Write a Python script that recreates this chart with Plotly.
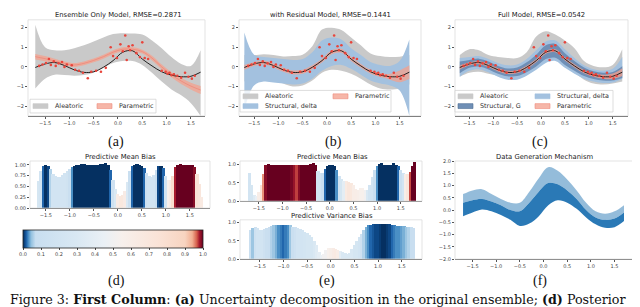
import plotly.graph_objects as go

# ---------------- data ----------------
XG = [-1.7, -1.5, -1.3, -1.1, -0.9, -0.7, -0.5, -0.3, -0.1, 0.1, 0.3, 0.5, 0.7, 0.9, 1.1, 1.3, 1.5, 1.7]
TRUE_MEAN = [-0.03, 0.15, 0.22, 0.07, -0.15, -0.28, -0.25, -0.02, 0.32, 0.75, 0.82, 0.40, 0.05, -0.25, -0.42, -0.50, -0.48, -0.27]

# (a) ensemble only
A_ALEA_HI = [2.15, 1.0, 0.85, 0.85, 0.95, 1.1, 1.3, 1.5, 1.68, 1.72, 1.7, 1.65, 1.35, 0.95, 0.5, 0.15, 0.05, 0.85]
A_ALEA_LO = [-1.1, -0.6, -0.4, -0.42, -0.45, -0.42, -0.3, -0.05, 0.2, 0.3, 0.3, 0.1, -0.3, -0.75, -1.15, -1.45, -1.85, -2.5]
A_ENS_MEAN = [0.52, 0.42, 0.30, 0.18, 0.10, 0.18, 0.33, 0.52, 0.75, 0.90, 0.90, 0.78, 0.45, 0.0, -0.40, -0.72, -0.98, -1.18]
A_PARAM_HI = [0.66, 0.55, 0.42, 0.28, 0.20, 0.28, 0.43, 0.62, 0.85, 1.0, 1.0, 0.88, 0.57, 0.12, -0.27, -0.57, -0.81, -0.98]
A_PARAM_LO = [0.38, 0.29, 0.18, 0.08, 0.0, 0.08, 0.23, 0.42, 0.65, 0.8, 0.8, 0.68, 0.33, -0.12, -0.53, -0.87, -1.15, -1.38]

# (b) with residual model
B_ALEA_HI = [0.6, 0.6, 0.65, 0.6, 0.53, 0.55, 0.62, 1.05, 1.9, 2.0, 1.88, 1.5, 1.1, 0.68, 0.55, 0.5, 0.52, 0.6]
B_ALEA_LO = [-0.75, -0.55, -0.5, -0.62, -0.85, -1.0, -0.95, -0.7, -0.3, -0.15, -0.2, -0.35, -0.6, -0.9, -1.1, -1.15, -1.1, -0.9]
B_DELTA_HI = [1.75, 0.62, 0.5, 0.45, 0.4, 0.35, 0.4, 0.75, 1.35, 1.5, 1.4, 0.95, 0.6, 0.25, 0.1, 0.05, 0.3, 1.4]
B_DELTA_LO = [-2.2, -0.95, -0.75, -0.8, -0.85, -0.9, -0.85, -0.6, -0.2, 0.05, 0.1, -0.1, -0.4, -0.7, -0.85, -0.95, -1.2, -2.5]
B_PARAM_HI = [0.09, 0.25, 0.32, 0.17, -0.05, -0.18, -0.15, 0.08, 0.42, 0.85, 0.92, 0.5, 0.15, -0.15, -0.32, -0.35, -0.18, 0.08]
B_PARAM_LO = [-0.15, 0.05, 0.12, -0.03, -0.25, -0.38, -0.35, -0.12, 0.22, 0.65, 0.72, 0.3, -0.05, -0.35, -0.52, -0.65, -0.78, -0.62]

# (c) full model
C_ALEA_HI = [0.6, 0.9, 0.85, 0.6, 0.5, 0.45, 0.45, 0.75, 1.55, 1.82, 1.65, 1.35, 0.95, 0.3, 0.05, -0.02, 0.1, 0.9]
C_ALEA_LO = [-0.5, -0.3, -0.25, -0.35, -0.45, -0.6, -0.6, -0.35, 0.1, 0.4, 0.35, 0.05, -0.3, -0.65, -0.85, -0.9, -0.85, -0.75]
C_DELTA_HI = [0.45, 0.5, 0.55, 0.4, 0.2, 0.08, 0.12, 0.4, 0.85, 1.3, 1.35, 0.9, 0.45, 0.08, -0.12, -0.2, -0.1, 0.5]
C_DELTA_LO = [-0.5, -0.2, -0.12, -0.28, -0.5, -0.65, -0.65, -0.45, -0.15, 0.2, 0.3, -0.05, -0.35, -0.6, -0.75, -0.82, -0.8, -0.6]
C_G_HI = [0.27, 0.35, 0.42, 0.27, 0.05, -0.08, -0.03, 0.23, 0.62, 1.1, 1.17, 0.7, 0.3, -0.03, -0.22, -0.3, -0.26, 0.03]
C_G_LO = [-0.33, -0.05, 0.02, -0.13, -0.35, -0.48, -0.47, -0.27, 0.02, 0.4, 0.47, 0.1, -0.2, -0.47, -0.62, -0.7, -0.7, -0.57]
C_PARAM_HI = [0.07, 0.23, 0.3, 0.15, -0.07, -0.2, -0.17, 0.06, 0.4, 0.83, 0.9, 0.48, 0.13, -0.17, -0.34, -0.4, -0.34, -0.07]
C_PARAM_LO = [-0.13, 0.07, 0.14, -0.01, -0.23, -0.36, -0.33, -0.1, 0.24, 0.67, 0.74, 0.32, -0.03, -0.33, -0.5, -0.6, -0.62, -0.47]

# observed training points
OBS_X = [-1.62, -1.55, -1.48, -1.42, -1.38, -1.32, -1.28, -1.22, -1.15, -1.1, -1.05, -0.95, -0.88, -0.8, -0.72, -0.62,
         -0.55, -0.45, -0.35, -0.25, -0.15, -0.1, -0.02, 0.05, 0.1, 0.15, 0.18, 0.22, 0.25, 0.3, 0.38, 0.45, 0.5,
         0.55, 0.62, 0.9, 0.98, 1.02, 1.06, 1.1, 1.15, 1.22, 1.3, 1.38, 1.45, 1.52, 1.58]
OBS_Y = [0.05, 0.12, 0.2, 0.4, 0.1, 0.28, 0.05, 0.18, 0.25, 0.0, 0.12, 0.08, -0.15, -0.2, -0.3, -0.58,
         -0.25, -0.2, -0.25, -0.05, 1.0, 0.55, 0.45, 1.15, 0.8, 1.6, 0.35, 1.05, 0.85, 1.1, 0.7, 0.5, 1.25,
         0.45, 0.4, -0.2, -0.25, -0.35, -0.3, -0.42, -0.38, -0.45, -0.55, -0.3, -0.5, -0.6, -0.45]

# bias panels: bar grid
XB = [-1.70, -1.65, -1.60, -1.55, -1.50, -1.45, -1.40, -1.35, -1.30, -1.25, -1.20, -1.15, -1.10, -1.05, -1.00,
      -0.95, -0.90, -0.85, -0.80, -0.75, -0.70, -0.65, -0.60, -0.55, -0.50, -0.45, -0.40, -0.35, -0.30, -0.25,
      -0.20, -0.15, -0.10, -0.05, 0.00, 0.05, 0.10, 0.15, 0.20, 0.25, 0.30, 0.35, 0.40, 0.45, 0.50, 0.55, 0.60,
      0.65, 0.70, 0.75, 0.80, 0.85, 0.90, 0.95, 1.00, 1.05, 1.10, 1.15, 1.20, 1.25, 1.30, 1.35, 1.40, 1.45, 1.50,
      1.55, 1.60, 1.65, 1.70, 1.75, 1.80]
D_MEAN_H = [0.00, 0.62, 0.85, 0.97, 1.00, 0.98, 0.90, 0.80, 0.74, 0.72,
            0.73, 0.77, 0.82, 0.87, 0.90, 0.95, 0.98, 1.00, 1.00, 1.01,
            1.01, 1.00, 1.00, 1.00, 1.00, 1.00, 1.00, 1.01, 1.02, 1.05,
            1.00, 0.88, 0.65, 0.45, 0.33, 0.28, 0.30, 0.40, 0.60, 0.85,
            0.97, 1.00, 1.02, 1.00, 0.98, 0.92, 0.82, 0.74, 0.72, 0.76,
            0.88, 0.97, 0.98, 0.92, 0.75, 0.66, 0.65, 0.75, 0.95, 1.00,
            1.01, 1.00, 1.00, 1.00, 1.00, 1.00, 0.95, 0.78, 0.55, 0.25,
            0.00]
D_MEAN_C = [0.50, 0.25, 0.20, 0.02, 0.00, 0.01, 0.06, 0.20, 0.20, 0.20,
            0.20, 0.20, 0.20, 0.18, 0.10, 0.03, 0.00, 0.00, 0.00, 0.00,
            0.00, 0.00, 0.00, 0.00, 0.00, 0.00, 0.00, 0.00, 0.00, 0.00,
            0.00, 0.02, 0.15, 0.30, 0.62, 0.68, 0.68, 0.62, 0.30, 0.10,
            0.02, 0.00, 0.00, 0.00, 0.00, 0.02, 0.15, 0.20, 0.20, 0.20,
            0.10, 0.01, 0.00, 0.02, 0.20, 0.55, 0.62, 0.80, 0.98, 1.00,
            1.00, 1.00, 1.00, 1.00, 1.00, 1.00, 0.99, 0.75, 0.70, 0.65,
            0.50]
E_MEAN_H = [0.78, 0.45, 0.18, 0.15, 0.25, 0.45, 0.75, 0.98, 1.03, 1.00,
            0.98, 0.98, 0.98, 0.98, 0.98, 0.98, 0.98, 0.98, 0.98, 0.98,
            0.98, 0.98, 0.98, 0.98, 0.99, 1.00, 1.02, 1.05, 1.00, 0.82,
            0.76, 0.78, 0.88, 0.97, 1.00, 1.00, 0.95, 0.85, 0.70, 0.60,
            0.56, 0.55, 0.52, 0.50, 0.45, 0.33, 0.31, 0.36, 0.36, 0.30,
            0.30, 0.45, 0.65, 0.85, 0.97, 1.02, 1.05, 1.00, 0.98, 0.98,
            1.00, 1.04, 1.00, 0.95, 0.85, 0.78, 0.74, 0.74, 0.80, 0.95,
            1.08]
E_MEAN_C = [0.20, 0.25, 0.35, 0.45, 0.60, 0.75, 0.95, 0.99, 1.00, 1.00,
            1.00, 1.00, 1.00, 1.00, 1.00, 1.00, 1.00, 1.00, 0.995, 0.985,
            0.972, 0.99, 1.00, 1.00, 1.00, 1.00, 1.00, 1.00, 1.00, 0.20,
            0.20, 0.10, 0.02, 0.00, 0.00, 0.00, 0.00, 0.03, 0.20, 0.25,
            0.40, 0.65, 0.70, 0.68, 0.60, 0.60, 0.58, 0.55, 0.55, 0.50,
            0.30, 0.20, 0.20, 0.10, 0.03, 0.00, 0.00, 0.00, 0.00, 0.00,
            0.00, 0.00, 0.00, 0.02, 0.10, 0.20, 0.60, 0.70, 0.97, 1.00,
            1.00]
E_VAR_H = [0.80, 0.86, 0.88, 0.85, 0.80, 0.80, 0.82, 0.86, 0.90, 0.92,
           0.93, 0.94, 0.95, 0.95, 0.95, 0.95, 0.95, 0.93, 0.90, 0.88,
           0.86, 0.84, 0.80, 0.76, 0.72, 0.67, 0.60, 0.50, 0.38, 0.20,
           0.12, 0.14, 0.25, 0.32, 0.30, 0.30, 0.28, 0.25, 0.22, 0.20,
           0.18, 0.15, 0.18, 0.28, 0.40, 0.50, 0.60, 0.70, 0.80, 0.90,
           0.94, 0.95, 0.96, 0.96, 0.97, 0.97, 0.98, 0.98, 0.98, 0.97,
           0.95, 0.93, 0.92, 0.92, 0.92, 0.91, 0.90, 0.90, 0.88, 0.87,
           0.00]
E_VAR_C = [0.10, 0.05, 0.15, 0.20, 0.20, 0.20, 0.15, 0.10, 0.08, 0.06,
           0.05, 0.04, 0.03, 0.025, 0.02, 0.025, 0.03, 0.05, 0.10, 0.15,
           0.20, 0.20, 0.20, 0.22, 0.25, 0.25, 0.25, 0.30, 0.35, 0.40,
           0.45, 0.50, 0.50, 0.55, 0.58, 0.62, 0.65, 0.60, 0.40, 0.30,
           0.30, 0.30, 0.30, 0.30, 0.25, 0.25, 0.20, 0.15, 0.06, 0.04,
           0.03, 0.02, 0.015, 0.01, 0.01, 0.005, 0.00, 0.00, 0.005, 0.01,
           0.02, 0.025, 0.03, 0.03, 0.035, 0.04, 0.05, 0.06, 0.07, 0.08,
           0.50]

# (f) data generation cloud envelopes
F_LO = [-0.25, -0.1, 0.02, -0.05, -0.2, -0.4, -0.65, -0.55, -0.25, 0.2, 0.4, 0.3, 0.05, -0.3, -0.58, -0.72, -0.7, -0.45]
F_MID = [0.3, 0.4, 0.45, 0.35, 0.2, 0.0, -0.05, 0.3, 0.75, 1.1, 1.05, 0.8, 0.45, 0.0, -0.3, -0.4, -0.35, -0.1]
F_HI = [0.65, 0.8, 0.85, 0.65, 0.45, 0.3, 0.3, 0.75, 1.3, 1.75, 1.6, 1.25, 0.8, 0.3, -0.05, -0.15, -0.05, 0.2]

# ticks
XT = [-1.5, -1.0, -0.5, 0.0, 0.5, 1.0, 1.5]
XT_TEXT = ["\u22121.5", "\u22121.0", "\u22120.5", "0.0", "0.5", "1.0", "1.5"]
YT_TOP = [-2, -1, 0, 1, 2]
YT_TOP_TEXT = ["\u22122", "\u22121", "0", "1", "2"]
YT_D = [0, 0.25, 0.5, 0.75, 1.0]
YT_D_TEXT = ["0.00", "0.25", "0.50", "0.75", "1.00"]
YT_E = [0, 0.5, 1.0]
YT_E_TEXT = ["0.0", "0.5", "1.0"]
YT_F = [-2, -1.5, -1, -0.5, 0, 0.5, 1, 1.5, 2]
YT_F_TEXT = ["\u22122.0", "\u22121.5", "\u22121.0", "\u22120.5", "0.0", "0.5", "1.0", "1.5", "2.0"]
CB_TICKS = [0, 0.1, 0.2, 0.3, 0.4, 0.5, 0.6, 0.7, 0.8, 0.9, 1.0]
CB_TEXT = ["0.0", "0.1", "0.2", "0.3", "0.4", "0.5", "0.6", "0.7", "0.8", "0.9", "1.0"]

TITLES = ["Ensemble Only Model, RMSE=0.2871", "with Residual Model, RMSE=0.1441", "Full Model, RMSE=0.0542",
          "Predictive Mean Bias", "Predictive Mean Bias", "Predictive Variance Bias", "Data Generation Mechanism"]

# ---------------- styling ----------------
W, H = 640, 307
def fx(p): return p / W
def fy(p): return 1 - p / H

GRAY = "#c9c9c9"
DELTA = "#a3c1df"
GBLUE = "#6f8fb6"
PINK = "rgba(244,160,140,0.75)"
CS = [[0.0, "#053061"], [0.01, "#0d4785"], [0.02, "#2166ac"], [0.03, "#4a8fc5"], [0.045, "#92c0df"],
      [0.07, "#c8def0"], [0.3, "#d9e8f3"], [0.45, "#eaf0f5"], [0.55, "#f7f0ec"], [0.75, "#fae3d7"],
      [0.9, "#f8d4c0"], [0.94, "#f2b093"], [0.965, "#d6604d"], [0.98, "#a51a2d"], [1.0, "#67001f"]]
TICKFONT = dict(family="DejaVu Sans", size=5, color="#444")

# axis id -> (x px domain, y px domain, x range, y range, yticks, ytext)
AX = {
    1: ((20, 197), (9, 107), (-1.85, 1.79), (-2.5, 2.4), YT_TOP, YT_TOP_TEXT),
    2: ((231, 413), (9, 107), (-1.81, 1.94), (-2.5, 2.4), YT_TOP, YT_TOP_TEXT),
    3: ((447, 620), (9, 107), (-1.80, 1.82), (-2.5, 2.4), YT_TOP, YT_TOP_TEXT),
    4: ((22, 202), (153, 201), (-1.83, 1.92), (0, 1.09), YT_D, YT_D_TEXT),
    5: ((232, 414), (153, 194), (-1.90, 1.95), (0, 1.1), YT_E, YT_E_TEXT),
    6: ((232, 414), (213, 253), (-1.92, 1.93), (0, 1.08), YT_E, YT_E_TEXT),
    7: ((447, 625), (153, 253), (-1.87, 1.89), (-2, 2), YT_F, YT_F_TEXT),
}
def xa(n): return "x" if n == 1 else f"x{n}"
def ya(n): return "y" if n == 1 else f"y{n}"

fig = go.Figure()

def band(n, lo, hi, color):
    fig.add_trace(go.Scatter(x=XG, y=lo, mode="lines", line=dict(width=0, shape="spline"),
                             xaxis=xa(n), yaxis=ya(n), hoverinfo="skip", showlegend=False))
    fig.add_trace(go.Scatter(x=XG, y=hi, mode="lines", line=dict(width=0, shape="spline"),
                             fill="tonexty", fillcolor=color,
                             xaxis=xa(n), yaxis=ya(n), hoverinfo="skip", showlegend=False))

def line(n, y, color, width):
    fig.add_trace(go.Scatter(x=XG, y=y, mode="lines", line=dict(width=width, color=color, shape="spline"),
                             xaxis=xa(n), yaxis=ya(n), hoverinfo="skip", showlegend=False))

def dots(n):
    fig.add_trace(go.Scatter(x=OBS_X, y=OBS_Y, mode="markers",
                             marker=dict(size=2.6, color="#e8453c", line=dict(width=0)),
                             xaxis=xa(n), yaxis=ya(n), hoverinfo="skip", showlegend=False))

# (a)
band(1, A_ALEA_LO, A_ALEA_HI, GRAY)
band(1, A_PARAM_LO, A_PARAM_HI, PINK)
line(1, A_ENS_MEAN, "#f08878", 0.8)
line(1, TRUE_MEAN, "#222222", 1.0)
dots(1)
# (b)
band(2, B_ALEA_LO, B_ALEA_HI, GRAY)
band(2, B_DELTA_LO, B_DELTA_HI, DELTA)
band(2, B_PARAM_LO, B_PARAM_HI, PINK)
line(2, TRUE_MEAN, "#222222", 1.0)
dots(2)
# (c)
band(3, C_ALEA_LO, C_ALEA_HI, GRAY)
band(3, C_DELTA_LO, C_DELTA_HI, DELTA)
band(3, C_G_LO, C_G_HI, GBLUE)
band(3, C_PARAM_LO, C_PARAM_HI, PINK)
line(3, TRUE_MEAN, "#222222", 1.0)
dots(3)

# bias bars
def bars(n, h, c, showscale=False):
    marker = dict(color=c, colorscale=CS, cmin=0, cmax=1, line=dict(width=0), showscale=showscale)
    if showscale:
        marker["colorbar"] = dict(orientation="h", x=fx(105), xanchor="center", y=fy(223), yanchor="top",
                                  len=180 / W, lenmode="fraction", thickness=18, thicknessmode="pixels",
                                  xpad=0, ypad=0, outlinewidth=0.8, outlinecolor="#222",
                                  tickvals=CB_TICKS, ticktext=CB_TEXT, tickfont=TICKFONT,
                                  ticks="outside", ticklen=2, tickcolor="#444")
    fig.add_trace(go.Bar(x=XB, y=h, width=0.066, marker=marker, xaxis=xa(n), yaxis=ya(n),
                         hoverinfo="skip", showlegend=False))

bars(4, D_MEAN_H, D_MEAN_C, showscale=True)
bars(5, E_MEAN_H, E_MEAN_C)
bars(6, E_VAR_H, E_VAR_C)

# (f) cloud
fig.add_trace(go.Scatter(x=XG, y=F_LO, mode="lines", line=dict(width=0, shape="spline"),
                         xaxis=xa(7), yaxis=ya(7), hoverinfo="skip", showlegend=False))
fig.add_trace(go.Scatter(x=XG, y=F_MID, mode="lines", line=dict(width=0, shape="spline"), fill="tonexty",
                         fillcolor="#2a79b6", xaxis=xa(7), yaxis=ya(7), hoverinfo="skip", showlegend=False))
fig.add_trace(go.Scatter(x=XG, y=F_HI, mode="lines", line=dict(width=0, shape="spline"), fill="tonexty",
                         fillcolor="rgba(42,121,182,0.5)", xaxis=xa(7), yaxis=ya(7), hoverinfo="skip",
                         showlegend=False))

# ---------------- layout ----------------
layout = dict(width=W, height=H, margin=dict(l=0, r=0, t=0, b=0), showlegend=False,
              plot_bgcolor="white", paper_bgcolor="white", bargap=0)
shapes, annots = [], []
for n, (xd, yd, xr, yr, yt, ytt) in AX.items():
    layout["xaxis" if n == 1 else f"xaxis{n}"] = dict(
        domain=[fx(xd[0]), fx(xd[1])], range=list(xr), anchor=ya(n), showgrid=False, zeroline=False,
        showline=True, linecolor="#555", linewidth=1, ticks="outside", ticklen=2, tickwidth=0.6,
        tickcolor="#555", tickvals=XT, ticktext=XT_TEXT, tickfont=TICKFONT, fixedrange=True)
    layout["yaxis" if n == 1 else f"yaxis{n}"] = dict(
        domain=[fy(yd[1]), fy(yd[0])], range=list(yr), anchor=xa(n), showgrid=False, zeroline=False,
        showline=False, ticks="outside", ticklen=2, tickwidth=0.6, tickcolor="#555",
        tickvals=yt, ticktext=ytt, tickfont=TICKFONT, fixedrange=True)
    shapes.append(dict(type="rect", xref=f"{xa(n)} domain", yref=f"{ya(n)} domain", x0=0, x1=1, y0=0, y1=1,
                       line=dict(color="#dcdcdc", width=0.8), layer="above"))

TITLE_POS = [(110, 4), (322, 4), (533, 4), (112, 149), (324, 149), (324, 209), (536, 149)]
for t, (x, y) in zip(TITLES, TITLE_POS):
    annots.append(dict(text=t, x=fx(x), y=fy(y), xref="paper", yref="paper", showarrow=False,
                       xanchor="center", yanchor="middle",
                       font=dict(family="DejaVu Sans", size=6.8, color="#222")))

SUBLABELS = [("(a)", 108, 134), ("(b)", 325, 134), ("(c)", 532, 134),
             ("(d)", 108, 275), ("(e)", 319, 275), ("(f)", 532, 275)]
for t, x, y in SUBLABELS:
    annots.append(dict(text=t, x=fx(x), y=fy(y), xref="paper", yref="paper", showarrow=False,
                       xanchor="center", yanchor="middle",
                       font=dict(family="Liberation Serif", size=14, color="#111")))

annots.append(dict(text="Figure 3: <b>First Column</b>: <b>(a)</b> Uncertainty decomposition in the original "
                        "ensemble; <b>(d)</b> Posterior",
                   x=0, y=fy(294), xref="paper", yref="paper", showarrow=False, xanchor="left",
                   yanchor="middle", font=dict(family="DejaVu Serif", size=12.7, color="#111")))

# manual legends (box, entries)
LEG_FONT = dict(family="DejaVu Sans", size=6.4, color="#333")
def legend(box, entries):
    x0, y0, x1, y1 = box
    shapes.append(dict(type="rect", xref="paper", yref="paper", x0=fx(x0), x1=fx(x1), y0=fy(y1), y1=fy(y0),
                       fillcolor="rgba(255,255,255,0.8)", line=dict(color="#cfcfcf", width=0.7), layer="above"))
    for (px, pyc, color, edge, label) in entries:
        shapes.append(dict(type="rect", xref="paper", yref="paper", x0=fx(px), x1=fx(px + 15),
                           y0=fy(pyc + 2.5), y1=fy(pyc - 2.5), fillcolor=color,
                           line=dict(color=edge, width=0.6), layer="above"))
        annots.append(dict(text=label, x=fx(px + 20), y=fy(pyc), xref="paper", yref="paper", showarrow=False,
                           xanchor="left", yanchor="middle", font=LEG_FONT))

legend((22, 90, 148, 104), [(25, 97, GRAY, GRAY, "Aleatoric"), (89, 97, "#f6b6a8", "#ef8c7c", "Parametric")])
legend((232, 81, 383, 103), [(235, 87, GRAY, GRAY, "Aleatoric"), (325, 87, "#f6b6a8", "#ef8c7c", "Parametric"),
                             (235, 97, DELTA, DELTA, "Structural, delta")])
legend((447, 81, 605, 103), [(450, 87, GRAY, GRAY, "Aleatoric"), (527, 87, DELTA, DELTA, "Structural, delta"),
                             (450, 97, GBLUE, "#4f6f96", "Structural, G"),
                             (527, 97, "#f6b6a8", "#ef8c7c", "Parametric")])

layout["shapes"] = shapes
layout["annotations"] = annots
fig.update_layout(**layout)
fig.write_html("out.html")
